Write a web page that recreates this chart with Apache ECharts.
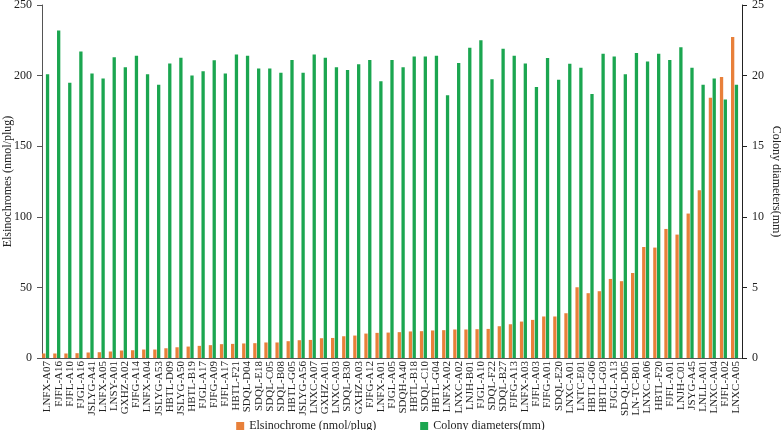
<!DOCTYPE html>
<html>
<head>
<meta charset="utf-8">
<script src="https://cdn.jsdelivr.net/npm/echarts@6/dist/echarts.min.js"></script>
<style>
  html, body { margin: 0; padding: 0; background: #fff; }
  #chart { width: 781px; height: 430px; }
</style>
</head>
<body>
<div id="chart"></div>
<script>
// strains on the x axis
var strains = ['LNFX-A07', 'FJFL-A16', 'FJFL-A10', 'FJGL-A16', 'JSLYG-A41', 'LNFX-A05', 'LNSY-A01', 'GXHZ-A02',
  'FJFG-A14', 'LNFX-A04', 'JSLYG-A53', 'HBTL-D09', 'JSLYG-A50', 'HBTL-B19', 'FJGL-A17', 'FJFG-A09',
  'FJFL-A17', 'HBTL-F21', 'SDQL-D04', 'SDQL-E18', 'SDQL-C05', 'SDQL-B08', 'HBTL-G05', 'JSLYG-A56',
  'LNXC-A07', 'GXHZ-A01', 'LNXC-A03', 'SDQL-B30', 'GXHZ-A03', 'FJFG-A12', 'LNFX-A01', 'FJGL-A05',
  'SDQH-A40', 'HBTL-B18', 'SDQL-C10', 'HBTL-G04', 'LNFX-A02', 'LNXC-A02', 'LNJH-B01', 'FJGL-A10',
  'SDQL-F22', 'SDQL-B27', 'FJFG-A13', 'LNFX-A03', 'FJFL-A03', 'FJFG-A01', 'SDQL-E20', 'LNXC-A01',
  'LNTC-E01', 'HBTL-G06', 'HBTL-G03', 'FJGL-A13', 'SD-QL-D05', 'LN-TC-B01', 'LNXC-A06', 'HBTL-F20',
  'FJFL-A01', 'LNJH-C01', 'JSYG-A45', 'LNLL-A01', 'LNXC-A04', 'FJFL-A02', 'LNXC-A05'];

// elsinochrome content (nmol/plug), left axis
var elsinochrome = [3.2, 3.2, 3.2, 3.4, 3.9, 4.1, 4.6, 5.3, 5.5, 6.0, 6.0, 6.9, 7.6, 8.1, 8.6, 9.1,
  9.8, 10.0, 10.3, 10.5, 11.0, 11.0, 11.9, 12.6, 12.8, 14.0, 14.2, 15.4, 15.9, 17.3, 17.8, 18.0,
  18.3, 18.8, 19.0, 19.5, 19.7, 20.2, 20.2, 20.4, 20.6, 22.5, 23.9, 25.8, 27.0, 29.4, 29.4, 31.7,
  50.1, 45.9, 47.3, 56.0, 54.4, 60.2, 78.6, 78.2, 91.4, 87.4, 102.3, 118.8, 184.4, 199.0, 227.3];

// colony diameters (mm), right axis
var diameters = [20.1, 23.2, 19.5, 21.7, 20.15, 19.8, 21.3, 20.6, 21.4, 20.1, 19.35, 20.86, 21.27, 20.0, 20.3, 21.08,
  20.15, 21.5, 21.4, 20.5, 20.5, 20.2, 21.1, 20.2, 21.5, 21.27, 20.6, 20.4, 20.8, 21.1, 19.6, 21.1,
  20.6, 21.36, 21.36, 21.4, 18.6, 20.9, 21.97, 22.5, 19.75, 21.9, 21.4, 20.86, 19.2, 21.24, 19.7, 20.84,
  20.56, 18.7, 21.55, 21.36, 20.1, 21.6, 21.0, 21.55, 21.1, 22.0, 20.56, 19.35, 19.8, 18.3, 19.35];

var leftTicks = [0, 50, 100, 150, 200, 250];
var rightTicks = [0, 5, 10, 15, 20, 25];

var font = 'Liberation Serif';
var chart = echarts.init(document.getElementById('chart'));

var option = {
  animation: false,
  textStyle: { fontFamily: font },
  grid: { left: 42, right: 39, top: 5, bottom: 72, outerBoundsMode: 'none', containLabel: false },
  legend: {
    data: ['Elsinochrome (nmol/plug)', 'Colony diameters(mm)'],
    top: 415,
    itemWidth: 8,
    itemHeight: 8,
    itemGap: 44,
    icon: 'rect',
    textStyle: { fontFamily: font, fontSize: 12, color: '#222' }
  },
  xAxis: {
    type: 'category',
    data: strains,
    axisLine: { lineStyle: { color: '#555', width: 1 } },
    axisTick: { show: false },
    axisLabel: { rotate: 90, interval: 0, fontFamily: font, fontSize: 11, color: '#222', margin: 3 }
  },
  yAxis: [
    {
      type: 'value',
      min: leftTicks[0],
      max: leftTicks[leftTicks.length - 1],
      interval: 50,
      name: 'Elsinochromes (nmol/plug)',
      nameLocation: 'middle',
      nameGap: 28,
      nameMoveOverlap: false,
      nameTextStyle: { fontFamily: font, fontSize: 12, color: '#222' },
      axisLine: { show: true, lineStyle: { color: '#555' } },
      axisTick: { show: true, length: 5, lineStyle: { color: '#555' } },
      axisLabel: { fontFamily: font, fontSize: 12, color: '#222', margin: 10 },
      splitLine: { show: false }
    },
    {
      type: 'value',
      min: rightTicks[0],
      max: rightTicks[rightTicks.length - 1],
      interval: 5,
      name: 'Colony diameters(mm)',
      nameLocation: 'middle',
      nameGap: 28,
      nameRotate: -90,
      nameMoveOverlap: false,
      nameTextStyle: { fontFamily: font, fontSize: 12, color: '#222' },
      axisLine: { show: true, lineStyle: { color: '#222' } },
      axisTick: { show: true, length: 5, lineStyle: { color: '#222' } },
      axisLabel: { fontFamily: font, fontSize: 12, color: '#222', margin: 10 },
      splitLine: { show: false }
    }
  ],
  series: [
    {
      name: 'Elsinochrome (nmol/plug)',
      type: 'bar',
      yAxisIndex: 0,
      barWidth: 3.3,
      barGap: '15%',
      itemStyle: { color: '#E8803A' },
      data: elsinochrome
    },
    {
      name: 'Colony diameters(mm)',
      type: 'bar',
      yAxisIndex: 1,
      barWidth: 3.3,
      barGap: '15%',
      itemStyle: { color: '#1BA650' },
      data: diameters
    },
    {
      // empty slot so the pair sits left of centre like the original
      name: 'pad',
      type: 'bar',
      yAxisIndex: 1,
      barWidth: 3.3,
      barGap: '15%',
      data: strains.map(function () { return null; })
    }
  ]
};

chart.setOption(option);
</script>
</body>
</html>
